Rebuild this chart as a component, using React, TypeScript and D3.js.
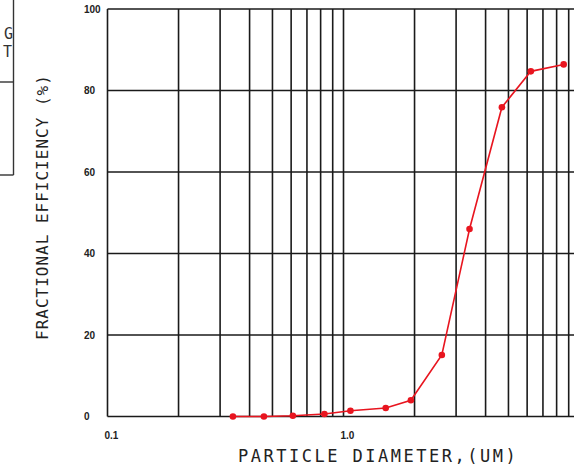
import React, { useEffect, useRef } from "react"
import * as d3 from "d3"

const diameters = [0.34, 0.46, 0.61, 0.83, 1.07, 1.51, 1.93, 2.61, 3.42, 4.69, 6.22, 8.57]
const efficiency = [0, 0, 0.2, 0.6, 1.4, 2.1, 4.0, 15.1, 46.0, 75.9, 84.7, 86.4]
const yTicks = [0, 20, 40, 60, 80, 100]
const xTickLabels = [
  { v: 0.1, label: "0.1" },
  { v: 1, label: "1.0" },
]

const W = 574
const H = 472
const MONO = "'DejaVu Sans Mono', monospace"

export default function App() {
  const ref = useRef<SVGSVGElement>(null)

  useEffect(() => {
    document.body.style.margin = "0"
    const svg = d3.select(ref.current!)
    svg.selectAll("*").remove()

    const left = 107.5
    const decade = 236
    const x = d3.scaleLog().domain([0.1, 10]).range([left, left + 2 * decade])
    const y = d3.scaleLinear().domain([0, 100]).range([416.5, 9])

    const grid = svg.append("g").attr("stroke", "#1a1a1a").attr("stroke-width", 1.6)

    // vertical grid at every log step
    const vLines: number[] = []
    for (const base of [0.1, 1]) {
      for (let k = 1; k <= 9; k++) vLines.push(base * k)
    }
    vLines.push(10)
    grid
      .selectAll(".v")
      .data(vLines)
      .enter()
      .append("line")
      .attr("x1", (d) => x(d))
      .attr("x2", (d) => x(d))
      .attr("y1", y(100))
      .attr("y2", y(0))

    grid
      .selectAll(".h")
      .data(yTicks)
      .enter()
      .append("line")
      .attr("x1", x(0.1))
      .attr("x2", x(10))
      .attr("y1", (d) => y(d))
      .attr("y2", (d) => y(d))

    // y tick labels
    svg
      .append("g")
      .selectAll("text")
      .data(yTicks)
      .enter()
      .append("text")
      .attr("x", 84)
      .attr("y", (d) => y(d) + 3.5)
      .attr("font-family", "'Liberation Sans', Arial, sans-serif")
      .attr("font-weight", "bold")
      .attr("font-size", 10)
      .attr("fill", "#222")
      .text((d) => String(d))

    // x tick labels
    svg
      .append("g")
      .selectAll("text")
      .data(xTickLabels)
      .enter()
      .append("text")
      .attr("x", (d) => x(d.v) - 3)
      .attr("y", 439)
      .attr("font-family", "'Liberation Sans', Arial, sans-serif")
      .attr("font-weight", "bold")
      .attr("font-size", 10)
      .attr("fill", "#222")
      .text((d) => d.label)

    // axis titles
    svg
      .append("text")
      .attr("x", 238)
      .attr("y", 462)
      .attr("font-family", MONO)
      .attr("font-size", 17)
      .attr("letter-spacing", 2.5)
      .attr("fill", "#222")
      .text("PARTICLE DIAMETER,(UM)")

    svg
      .append("text")
      .attr("transform", "translate(48,340) rotate(-90)")
      .attr("font-family", MONO)
      .attr("font-size", 16)
      .attr("letter-spacing", 1)
      .attr("fill", "#222")
      .text("FRACTIONAL EFFICIENCY (%)")

    // cropped box on the left
    const box = svg.append("g").attr("stroke", "#333").attr("stroke-width", 1.4).attr("fill", "none")
    box.append("line").attr("x1", 13.5).attr("x2", 13.5).attr("y1", 0).attr("y2", 175)
    box.append("line").attr("x1", 0).attr("x2", 13.5).attr("y1", 82).attr("y2", 82)
    box.append("line").attr("x1", 0).attr("x2", 13.5).attr("y1", 175).attr("y2", 175)
    svg
      .append("text")
      .attr("x", 13)
      .attr("y", 39)
      .attr("text-anchor", "end")
      .attr("font-family", MONO)
      .attr("font-size", 15)
      .attr("fill", "#333")
      .text("G")
    svg
      .append("text")
      .attr("x", 12)
      .attr("y", 57)
      .attr("text-anchor", "end")
      .attr("font-family", MONO)
      .attr("font-size", 15)
      .attr("fill", "#333")
      .text("T")

    // efficiency curve
    const pts = diameters.map((d, i) => [d, efficiency[i]] as [number, number])
    const line = d3
      .line<[number, number]>()
      .x((d) => x(d[0]))
      .y((d) => y(d[1]))
    svg
      .append("path")
      .datum(pts)
      .attr("d", line)
      .attr("fill", "none")
      .attr("stroke", "#e8151f")
      .attr("stroke-width", 1.6)

    svg
      .append("g")
      .selectAll("circle")
      .data(pts)
      .enter()
      .append("circle")
      .attr("cx", (d) => x(d[0]))
      .attr("cy", (d) => y(d[1]))
      .attr("r", 3.3)
      .attr("fill", "#e8151f")
  }, [])

  return <svg ref={ref} width={W} height={H} style={{ display: "block", background: "#fff" }} />
}
